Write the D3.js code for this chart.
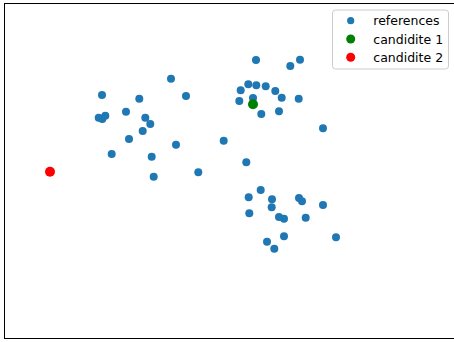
<!DOCTYPE html>
<html>
<head>
<meta charset="utf-8">
<script src="https://cdn.jsdelivr.net/npm/d3@7"></script>
<style>
  body { margin: 0; background: #fff; }
  svg { display: block; }
  text { font-family: "DejaVu Sans", sans-serif; }
</style>
</head>
<body>
<svg id="chart" width="454" height="342"></svg>
<script>
// scatter values (no axis ticks, so units are arbitrary)
const referencesX = [
  251.5, 285.8, 295.5, 166.5, 97.5, 134.8, 181.5, 243.8, 251.8, 261.2,
  236.2, 270.8, 277.2, 234.8, 248.5, 294.2, 256.8, 274.5, 121.5, 94.2,
  97.8, 100.8, 140.8, 145.8, 138.2, 124.5, 171.5, 318.5, 219.2, 107.2,
  147.2, 241.8, 149.2, 193.8, 256.2, 244.2, 267.5, 294.5, 297.5, 318.5,
  267.2, 244.8, 274.5, 279.5, 301.2, 279.5, 331.5, 262.5, 269.8
]
const referencesY = [
  278.5, 272.5, 278.8, 259.8, 243.5, 239.8, 242.5, 254.2, 253.2, 252.2,
  248.2, 247.5, 240.8, 237.5, 240.5, 239.8, 224.5, 227.2, 226.8, 220.8,
  219.5, 222.8, 220.8, 214.5, 207.5, 199.5, 193.8, 210.2, 197.8, 184.5,
  181.8, 176.2, 161.8, 166.2, 148.5, 141.2, 139.2, 140.5, 137.2, 133.5,
  131.2, 125.2, 121.5, 119.8, 120.8, 102.2, 101.2, 96.8, 89.8
]
const candidate1 = [248.5, 234.2]
const candidate2 = [45.5, 166.8]

const legendLabels = ['references', 'candidite 1', 'candidite 2']

const COLORS = {
  references: '#1f77b4',
  candidate1: '#008000',
  candidate2: '#ff0000'
}

const svg = d3.select('#chart')

const plot = { left: 4.5, top: 3.5, right: 459, bottom: 338.5 }

const x = d3.scaleLinear()
  .domain([0, plot.right - plot.left])
  .range([plot.left, plot.right])

const y = d3.scaleLinear()
  .domain([0, plot.bottom - plot.top])
  .range([plot.bottom, plot.top])

// axes frame (matplotlib spines, ticks turned off)
svg.append('rect')
  .attr('x', plot.left)
  .attr('y', plot.top)
  .attr('width', plot.right - plot.left)
  .attr('height', plot.bottom - plot.top)
  .attr('fill', 'none')
  .attr('stroke', '#000')
  .attr('stroke-width', 1)

const references = referencesX.map((d, i) => ({ x: d, y: referencesY[i] }))

svg.append('g')
  .attr('class', 'references')
  .selectAll('circle')
  .data(references)
  .enter()
  .append('circle')
  .attr('cx', d => x(d.x))
  .attr('cy', d => y(d.y))
  .attr('r', 4)
  .attr('fill', COLORS.references)

const candidates = [
  { x: candidate1[0], y: candidate1[1], color: COLORS.candidate1 },
  { x: candidate2[0], y: candidate2[1], color: COLORS.candidate2 }
]

svg.append('g')
  .attr('class', 'candidates')
  .selectAll('circle')
  .data(candidates)
  .enter()
  .append('circle')
  .attr('cx', d => x(d.x))
  .attr('cy', d => y(d.y))
  .attr('r', 5)
  .attr('fill', d => d.color)

// legend, upper right
const legend = svg.append('g')
  .attr('class', 'legend')
  .attr('transform', 'translate(332.5, 10)')

legend.append('rect')
  .attr('width', 116)
  .attr('height', 59)
  .attr('rx', 3)
  .attr('fill', '#fff')
  .attr('fill-opacity', 0.8)
  .attr('stroke', '#cccccc')
  .attr('stroke-width', 1)

const legendColors = [COLORS.references, COLORS.candidate1, COLORS.candidate2]
const legendRadius = [3.6, 4.5, 4.5]

const rows = legend.selectAll('g.row')
  .data(legendLabels)
  .enter()
  .append('g')
  .attr('class', 'row')
  .attr('transform', (d, i) => `translate(0, ${10.7 + i * 18.3})`)

rows.append('circle')
  .attr('cx', 18.2)
  .attr('cy', 0)
  .attr('r', (d, i) => legendRadius[i])
  .attr('fill', (d, i) => legendColors[i])

rows.append('text')
  .attr('x', 40.8)
  .attr('y', 0)
  .attr('dy', '0.36em')
  .attr('font-size', 12.5)
  .attr('fill', '#000')
  .text(d => d)
</script>
</body>
</html>
